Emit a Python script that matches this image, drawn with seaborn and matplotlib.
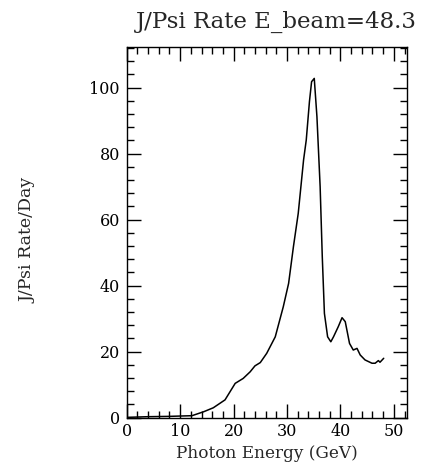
import numpy as np
import pandas as pd
import matplotlib
matplotlib.use("Agg")
import matplotlib.pyplot as plt
from matplotlib.ticker import MultipleLocator
import seaborn as sns

# -------------------------------------
# Podaci ocitani sa slike
# -------------------------------------
energy = [0.0, 2.0, 4.0, 6.0, 8.0, 10.0, 12.2, 14.4, 16.2, 18.4, 20.3, 21.8, 23.1,
          24.0, 25.0, 26.2, 27.8, 29.3, 30.3, 31.2, 32.1, 33.1, 33.6, 34.2, 34.6,
          35.1, 35.6, 36.2, 36.6, 37.0, 37.6, 38.2, 38.7, 39.6, 40.3, 40.9, 41.7,
          42.4, 43.1, 43.7, 44.6, 45.9, 46.5, 47.1, 47.4, 48.1]
rate = [0.1, 0.2, 0.3, 0.35, 0.4, 0.5, 0.6, 1.8, 3.0, 5.4, 10.4, 11.9, 13.9,
        15.7, 16.7, 19.5, 24.5, 33.6, 40.7, 51.8, 61.9, 78.1, 84.1, 95.8, 101.8,
        102.8, 91.2, 70.0, 48.8, 31.6, 24.5, 23.0, 24.5, 27.6, 30.3, 29.1, 22.5,
        20.5, 21.0, 19.0, 17.5, 16.5, 16.5, 17.3, 16.8, 18.0]

title = "J/Psi Rate E_beam=48.3"
xlabel = "Photon Energy (GeV)"
ylabel = "J/Psi Rate/Day"

df = pd.DataFrame({"energy": energy, "rate": rate})

sns.set_theme(style="ticks")
plt.rcParams["font.family"] = ["DejaVu Serif"]

fig = plt.figure(figsize=(4.3, 4.7), dpi=100)
ax = fig.add_axes([0.2947, 0.1113, 0.6511, 0.7893])

sns.lineplot(data=df, x="energy", y="rate", ax=ax, color="black", linewidth=1.1)

ax.set_xlim(0, 52.4)
ax.set_ylim(0, 112.4)
ax.xaxis.set_major_locator(MultipleLocator(10))
ax.xaxis.set_minor_locator(MultipleLocator(2))
ax.yaxis.set_major_locator(MultipleLocator(20))
ax.yaxis.set_minor_locator(MultipleLocator(4))

ax.tick_params(which="both", direction="in", top=True, right=True,
               colors="black", width=1.0, labelsize=11.5)
ax.tick_params(which="major", length=10)
ax.tick_params(which="minor", length=5)
ax.tick_params(axis="y", pad=5)
for s in ax.spines.values():
    s.set_linewidth(1.0)
    s.set_color("black")

ax.set_xlabel(xlabel, fontsize=12.2, labelpad=4)
ax.set_ylabel("")
fig.text(0.065, 0.489, ylabel, rotation=90, ha="center", va="center", fontsize=12.5)
fig.text(0.97, 0.940, title, ha="right", va="baseline", fontsize=16.5)

fig.savefig("out.png", dpi=100)
